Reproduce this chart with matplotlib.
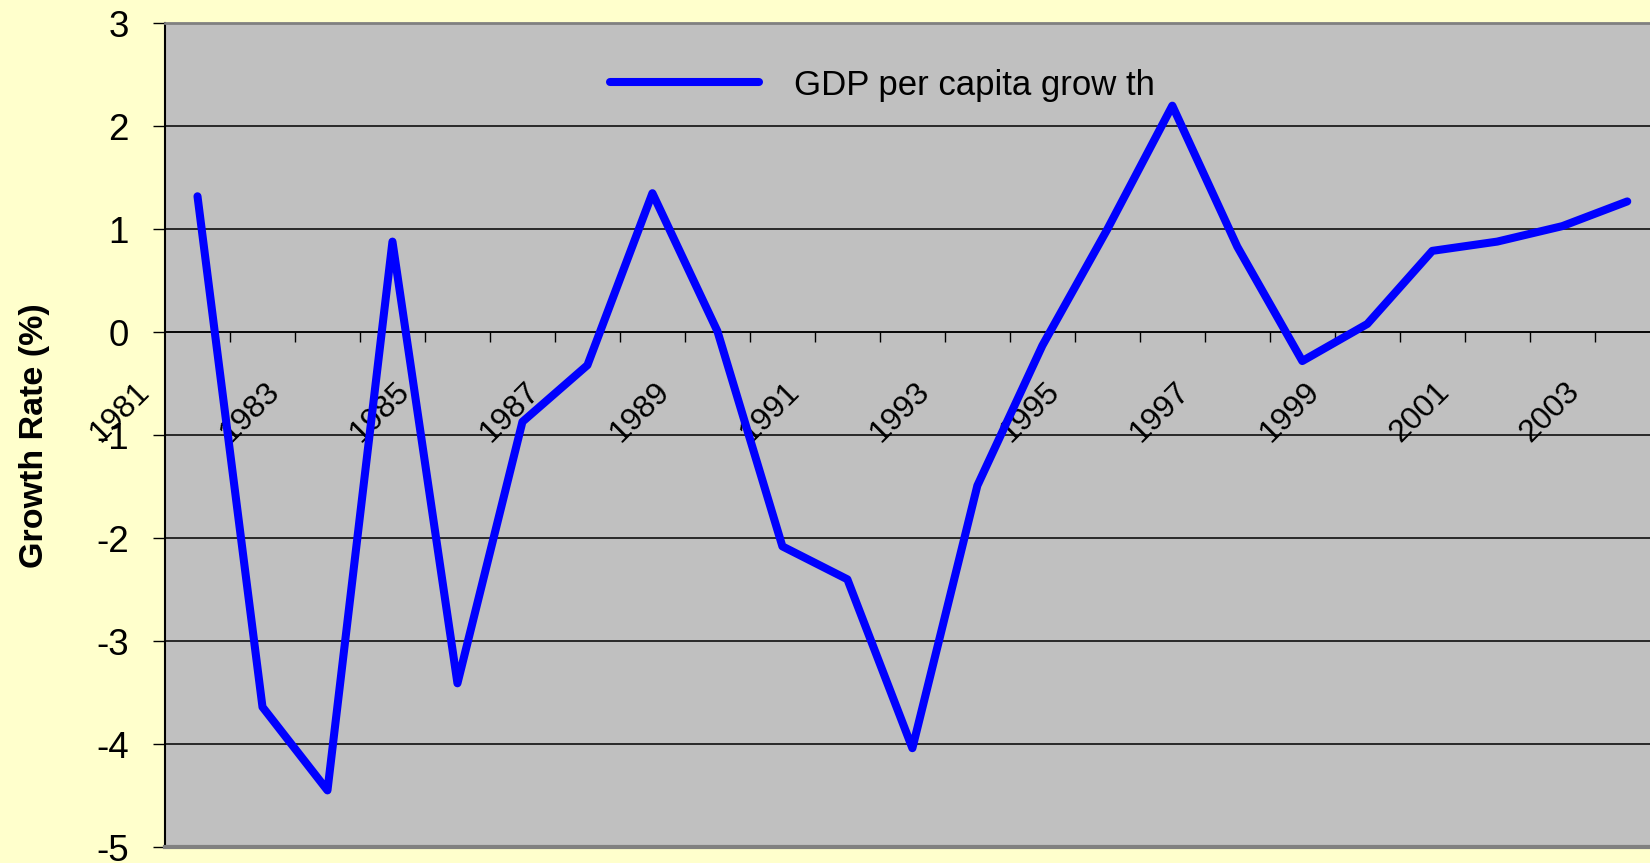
import numpy as np
import matplotlib
matplotlib.use('Agg')
import matplotlib.pyplot as plt
from matplotlib.transforms import ScaledTranslation

plt.rcParams['font.family'] = ['Liberation Sans', 'DejaVu Sans']

years = list(range(1981, 2004))
growth = [1.32, -3.64, -4.45, 0.88, -3.41, -0.87, -0.32, 1.35, 0.01, -2.08, -2.40,
          -4.04, -1.49, -0.13, 1.00, 2.20, 0.83, -0.28, 0.08, 0.79, 0.88, 1.03, 1.27]
yticks = [-5, -4, -3, -2, -1, 0, 1, 2, 3]
label_years = years[::2]

fig = plt.figure(figsize=(16.5, 8.63), dpi=100)
fig.patch.set_facecolor('#FFFFCC')
ax = fig.add_axes([0.1, 0.0185, 0.9, 0.9545])
ax.set_facecolor('#C0C0C0')

x = np.arange(len(years))
ax.plot(x, growth, color='#0000FF', lw=5.8, solid_joinstyle='round',
        solid_capstyle='round', label='GDP per capita grow th', zorder=3)

ax.set_ylim(-5, 3)
ax.set_xlim(-0.5, 22.35)
ax.set_yticks(yticks)
ax.set_yticklabels([str(v) for v in yticks])
for v in yticks:
    ax.axhline(v, color='black', lw=1.1, zorder=1)

# category axis crosses at zero
ax.spines['bottom'].set_position(('data', 0))
ax.spines['bottom'].set_color('black')
ax.spines['bottom'].set_linewidth(1.1)
ax.spines['top'].set_color('#808080')
ax.spines['top'].set_linewidth(2)
ax.spines['right'].set_visible(False)
ax.spines['left'].set_color('black')
ax.spines['left'].set_linewidth(1.5)
ax.axhline(-5, color='#808080', lw=3, zorder=4, clip_on=False)

ax.set_xticks(x[::2])
ax.set_xticklabels([str(y) for y in label_years], rotation=45, ha='right', va='top')
ax.set_xticks(x[:-1] + 0.5, minor=True)
ax.tick_params(axis='x', which='major', length=0, pad=32, labelsize=23)
ax.tick_params(axis='x', which='minor', length=7.5, width=1, direction='out')
ax.tick_params(axis='y', length=9, width=1, pad=17, labelsize=26.5)

off = ScaledTranslation(-0.42, 0, fig.dpi_scale_trans)
for lab in ax.get_xticklabels():
    lab.set_transform(lab.get_transform() + off)

fig.text(0.021, 0.495, 'Growth Rate (%)', rotation=90, fontsize=24.5,
         fontweight='bold', ha='center', va='center')

ax.legend(loc='center', bbox_to_anchor=(0.483, 0.925), frameon=False,
          fontsize=25, handlelength=4.3, handletextpad=1.0)

fig.savefig('out.png', dpi=100, facecolor=fig.get_facecolor())
